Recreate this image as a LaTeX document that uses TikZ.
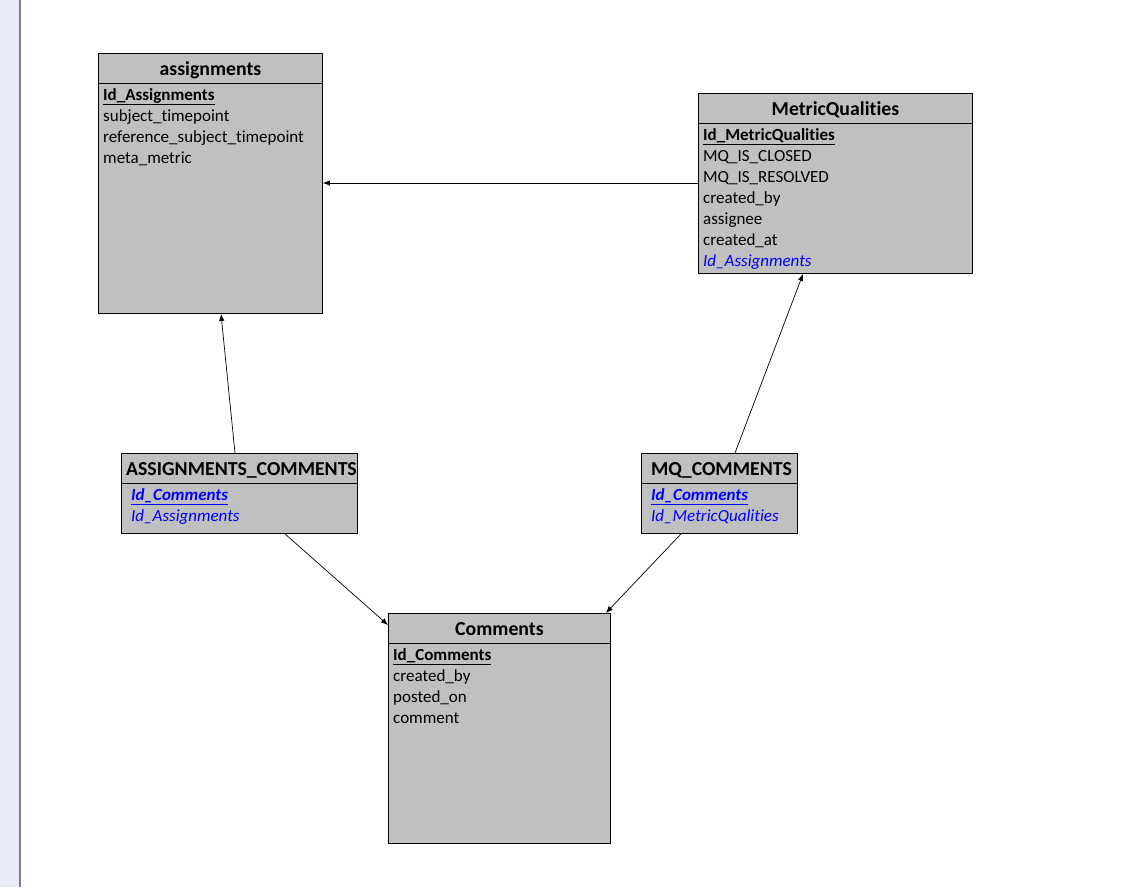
\documentclass[tikz,border=0pt]{standalone}
\usepackage{fontspec}
\setmainfont{Carlito}[Ligatures={NoCommon}]
\usetikzlibrary{arrows.meta,calc}
\definecolor{tblgray}{HTML}{C0C0C0}
\definecolor{fkblue}{HTML}{0000FF}
\definecolor{stripbg}{HTML}{E8EAF8}
\definecolor{stripline}{HTML}{808080}
\newcommand\fldfont{\fontsize{17}{20}\selectfont}
\newcommand\ttlfont{\fontsize{19.8}{22}\selectfont\bfseries}
\tikzset{
  tbl/.style={draw=black, line width=0.9pt, fill=tblgray, anchor=north west, inner sep=0pt, minimum width=#1},
  ttl/.style={anchor=base, inner sep=0pt, font=\ttlfont},
  fld/.style={anchor=base west, inner sep=0pt, font=\fldfont, text=black},
  fkf/.style={anchor=base west, inner sep=0pt, font=\fldfont\itshape, text=fkblue},
  hline/.style={line width=0.9pt},
  rel/.style={line width=0.7pt, -{Latex[length=7pt,width=5.5pt]}}
}
\begin{document}
\begin{tikzpicture}[x=1pt,y=-1pt]
\useasboundingbox (0,0) rectangle (1128,887);
\fill[white] (0,0) rectangle (1128,887);
\fill[stripbg] (0,0) rectangle (19,887);
\fill[stripline] (19,0) rectangle (21,887);

% assignments
\node[tbl=224pt, minimum height=260pt] (asg) at (98,53) {};
\draw[hline] ($(asg.north west)+(0,30)$) coordinate (asgl) -- ($(asg.north east)+(0,30)$) coordinate (asgr);
\node[ttl] (asgt) at ($(asg.north)+(0,22)$) {assignments};
\node[fld] (asg1) at ($(asg.north west)+(5,47)$) {\bfseries\underline{Id\_Assignments}};
\node[fld] (asg2) at ($(asg.north west)+(5,68)$) {subject\_timepoint};
\node[fld] (asg3) at ($(asg.north west)+(5,89)$) {reference\_subject\_timepoint};
\node[fld] (asg4) at ($(asg.north west)+(5,110)$) {meta\_metric};

% MetricQualities
\node[tbl=274pt, minimum height=180pt] (mq) at (698,93) {};
\draw[hline] ($(mq.north west)+(0,30)$) coordinate (mql) -- ($(mq.north east)+(0,30)$) coordinate (mqr);
\node[ttl] (mqt) at ($(mq.north)+(0,22)$) {MetricQualities};
\node[fld] (mq1) at ($(mq.north west)+(5,47)$) {\bfseries\underline{Id\_MetricQualities}};
\node[fld] (mq2) at ($(mq.north west)+(5,68)$) {MQ\_IS\_CLOSED};
\node[fld] (mq3) at ($(mq.north west)+(5,89)$) {MQ\_IS\_RESOLVED};
\node[fld] (mq4) at ($(mq.north west)+(5,110)$) {created\_by};
\node[fld] (mq5) at ($(mq.north west)+(5,131)$) {assignee};
\node[fld] (mq6) at ($(mq.north west)+(5,152)$) {created\_at};
\node[fkf] (mq7) at ($(mq.north west)+(5,173)$) {Id\_Assignments};

% ASSIGNMENTS_COMMENTS
\node[tbl=236pt, minimum height=80pt] (ac) at (121,453) {};
\draw[hline] ($(ac.north west)+(0,30)$) coordinate (acl) -- ($(ac.north east)+(0,30)$) coordinate (acr);
\node[ttl] (act) at ($(ac.north)+(2,22)$) {ASSIGNMENTS\_COMMENTS};
\node[fkf] (ac1) at ($(ac.north west)+(10,47)$) {\bfseries\underline{Id\_Comments}};
\node[fkf] (ac2) at ($(ac.north west)+(10,68)$) {Id\_Assignments};

% MQ_COMMENTS
\node[tbl=156pt, minimum height=80pt] (mqc) at (641,453) {};
\draw[hline] ($(mqc.north west)+(0,30)$) coordinate (mqcl) -- ($(mqc.north east)+(0,30)$) coordinate (mqcr);
\node[ttl] (mqct) at ($(mqc.north)+(2,22)$) {MQ\_COMMENTS};
\node[fkf] (mqc1) at ($(mqc.north west)+(10,47)$) {\bfseries\underline{Id\_Comments}};
\node[fkf] (mqc2) at ($(mqc.north west)+(10,68)$) {Id\_MetricQualities};

% Comments
\node[tbl=222pt, minimum height=230pt] (cm) at (388,613) {};
\draw[hline] ($(cm.north west)+(0,30)$) coordinate (cml) -- ($(cm.north east)+(0,30)$) coordinate (cmr);
\node[ttl] (cmt) at ($(cm.north)+(0,22)$) {Comments};
\node[fld] (cm1) at ($(cm.north west)+(5,47)$) {\bfseries\underline{Id\_Comments}};
\node[fld] (cm2) at ($(cm.north west)+(5,68)$) {created\_by};
\node[fld] (cm3) at ($(cm.north west)+(5,89)$) {posted\_on};
\node[fld] (cm4) at ($(cm.north west)+(5,110)$) {comment};

% relationships
\draw[rel] ($(mq.north west)+(0,90)$) -- ($(asg.north east)+(0,130)$);
\draw[rel] ($(ac.north west)+(114,0)$) -- ($(asg.south west)+(123,0)$);
\draw[rel] ($(mqc.north west)+(94,0)$) -- ($(mq.south west)+(105,0)$);
\draw[rel] ($(ac.south west)+(164,0)$) -- ($(cm.north west)+(0,12)$);
\draw[rel] ($(mqc.south west)+(40,0)$) -- ($(cm.north east)+(-5,0)$);
\end{tikzpicture}
\end{document}
